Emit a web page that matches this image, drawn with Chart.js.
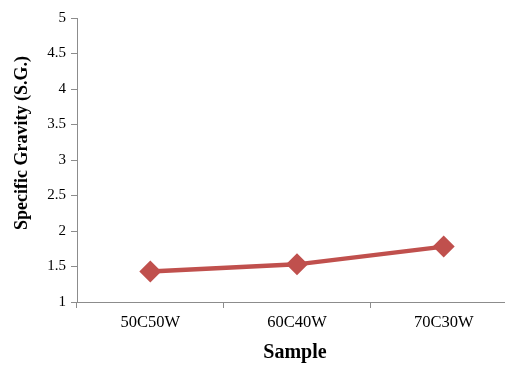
<!DOCTYPE html>
<html>
<head>
<meta charset="utf-8">
<script src="https://cdn.jsdelivr.net/npm/chart.js@4/dist/chart.umd.min.js"></script>
<style>
  html, body { margin: 0; padding: 0; background: #fff; overflow: hidden; }
  #wrap { position: relative; width: 528px; height: 365px; }
</style>
</head>
<body>
<div id="wrap"><canvas id="c" width="528" height="365"></canvas></div>
<script>
// Specific gravity of each sample mix
const samples = ['50C50W', '60C40W', '70C30W'];
const specificGravity = [1.43, 1.53, 1.78];
const yTicks = [1, 1.5, 2, 2.5, 3, 3.5, 4, 4.5, 5];

const yTitle = 'Specific Gravity (S.G.)';
const xTitle = 'Sample';

const axisColor = '#8c8c8c';
const serif = '"Liberation Serif", "Times New Roman", serif';

// Axis titles drawn at fixed spots around the plot
const axisTitles = {
  id: 'axisTitles',
  afterDraw(chart) {
    const ctx = chart.ctx;
    ctx.save();
    ctx.fillStyle = '#000';
    ctx.font = 'bold 20px ' + serif;
    ctx.textAlign = 'center';
    ctx.textBaseline = 'middle';
    ctx.fillText(xTitle, 295, 353);
    ctx.translate(22, 143);
    ctx.rotate(-Math.PI / 2);
    ctx.font = 'bold 18px ' + serif;
    ctx.fillText(yTitle, 0, 0);
    ctx.restore();
  }
};

new Chart(document.getElementById('c'), {
  type: 'line',
  data: {
    labels: samples,
    datasets: [{
      data: specificGravity,
      borderColor: '#C0504D',
      backgroundColor: '#C0504D',
      borderWidth: 4.5,
      pointStyle: 'rectRot',
      pointRadius: 11,
      pointHoverRadius: 11,
      pointBorderWidth: 0,
      tension: 0
    }]
  },
  options: {
    responsive: false,
    animation: false,
    devicePixelRatio: 1,
    layout: { padding: { top: 18, left: 0, right: 3, bottom: 0 } },
    plugins: { legend: { display: false }, tooltip: { enabled: false } },
    scales: {
      x: {
        offset: true,
        grid: { display: true, offset: true, drawOnChartArea: false, color: axisColor, tickLength: 6 },
        border: { color: axisColor, width: 1 },
        ticks: { color: '#000', font: { family: serif, size: 16.5 }, padding: 5, maxRotation: 0 },
        afterFit(s) { s.height = 63; }
      },
      y: {
        min: 1,
        max: 5,
        afterBuildTicks(s) { s.ticks = yTicks.map(v => ({ value: v })); },
        grid: { display: true, drawOnChartArea: false, color: axisColor, tickLength: 6 },
        border: { color: axisColor, width: 1 },
        ticks: {
          color: '#000', font: { family: serif, size: 15 }, padding: 5,
          callback: v => String(v)
        },
        afterFit(s) { s.width = 77; }
      }
    }
  },
  plugins: [axisTitles]
});
</script>
</body>
</html>
